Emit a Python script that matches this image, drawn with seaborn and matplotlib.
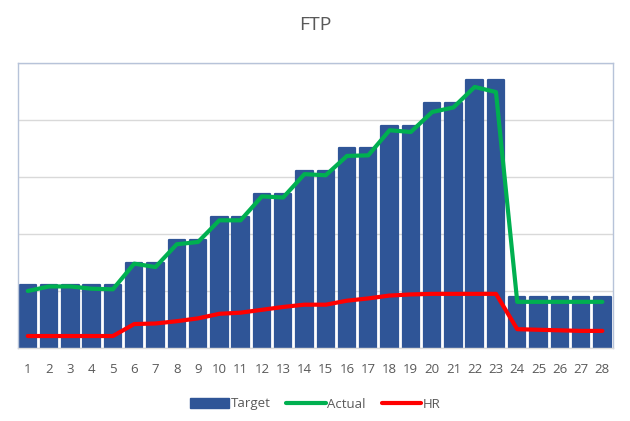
import matplotlib
matplotlib.use("Agg")
import matplotlib.pyplot as plt
import seaborn as sns
import numpy as np
import pandas as pd
from matplotlib.patches import Patch
from matplotlib.lines import Line2D

days = [str(i) for i in range(1, 29)]
target = [55, 55, 55, 55, 55, 75, 75, 95, 95, 115, 115, 135, 135, 155, 155,
          175, 175, 195, 195, 215, 215, 235, 235, 45, 45, 45, 45, 45]
actual = [50, 54, 54, 52, 51.5, 74, 71, 91, 93, 112, 112, 133, 132, 152.5, 151.5,
          168.5, 169, 191, 189.5, 207, 211, 229, 224.5, 40.5, 40.5, 40.5, 40.5, 40.5]
hr = [10.5, 10.5, 10.5, 10.5, 10.5, 21, 21.5, 23.5, 26, 30, 31, 33.5, 36, 38, 38,
      41.5, 43.5, 46, 47, 47.5, 47.5, 47.5, 47.5, 16.5, 16, 15.5, 15, 15]

df = pd.DataFrame({"day": days, "Target": target, "Actual": actual, "HR": hr})

sns.set_theme(style="white")
plt.rcParams["font.family"] = ["Open Sans", "DejaVu Sans"]

bar_color = "#2F5597"
green = "#00B050"
red = "#FF0000"
text_gray = "#595959"

fig = plt.figure(figsize=(6.3, 4.21), dpi=100)
ax = fig.add_axes([18 / 630, 1 - 348 / 421, (613 - 18) / 630, (348 - 63) / 421])

sns.barplot(data=df, x="day", y="Target", color=bar_color, saturation=1,
            width=0.77, ax=ax, zorder=2)
for p in ax.patches:
    p.set_edgecolor(bar_color)
    p.set_linewidth(1.6)
    p.set_joinstyle("round")

sns.pointplot(data=df, x="day", y="Actual", color=green, markers="",
              linewidth=3.0, errorbar=None, ax=ax, zorder=4)
sns.pointplot(data=df, x="day", y="HR", color=red, markers="",
              linewidth=3.0, errorbar=None, ax=ax, zorder=4)

ax.set_xlim(-0.46, 27.5)
ax.set_ylim(0, 250)
ax.set_yticks([0, 50, 100, 150, 200, 250])
ax.set_yticklabels([])
ax.yaxis.grid(True, color="#D9D9D9", linewidth=1, zorder=0)
ax.set_axisbelow(True)
ax.set_xlabel("")
ax.set_ylabel("")
ax.tick_params(axis="x", length=0, pad=11, labelsize=9.5, labelcolor=text_gray)
ax.tick_params(axis="y", length=0)
for s in ax.spines.values():
    s.set_color("#B7C3D9")
    s.set_linewidth(1.0)
ax.spines["bottom"].set_color("#D9D9D9")

fig.text(0.5, 1 - 25 / 421, "FTP", ha="center", va="center",
         fontsize=14, color=text_gray)

handles = [Patch(facecolor=bar_color, edgecolor=bar_color),
           Line2D([0], [0], color=green, linewidth=3.0),
           Line2D([0], [0], color=red, linewidth=3.0)]
fig.legend(handles, ["Target", "Actual", "HR"], loc="center",
           bbox_to_anchor=(0.5, 1 - 404 / 421), ncol=3, frameon=False,
           fontsize=9.5, labelcolor=text_gray, handlelength=3.0,
           handletextpad=0.1, columnspacing=1.2)

fig.savefig("out.png", dpi=100)
